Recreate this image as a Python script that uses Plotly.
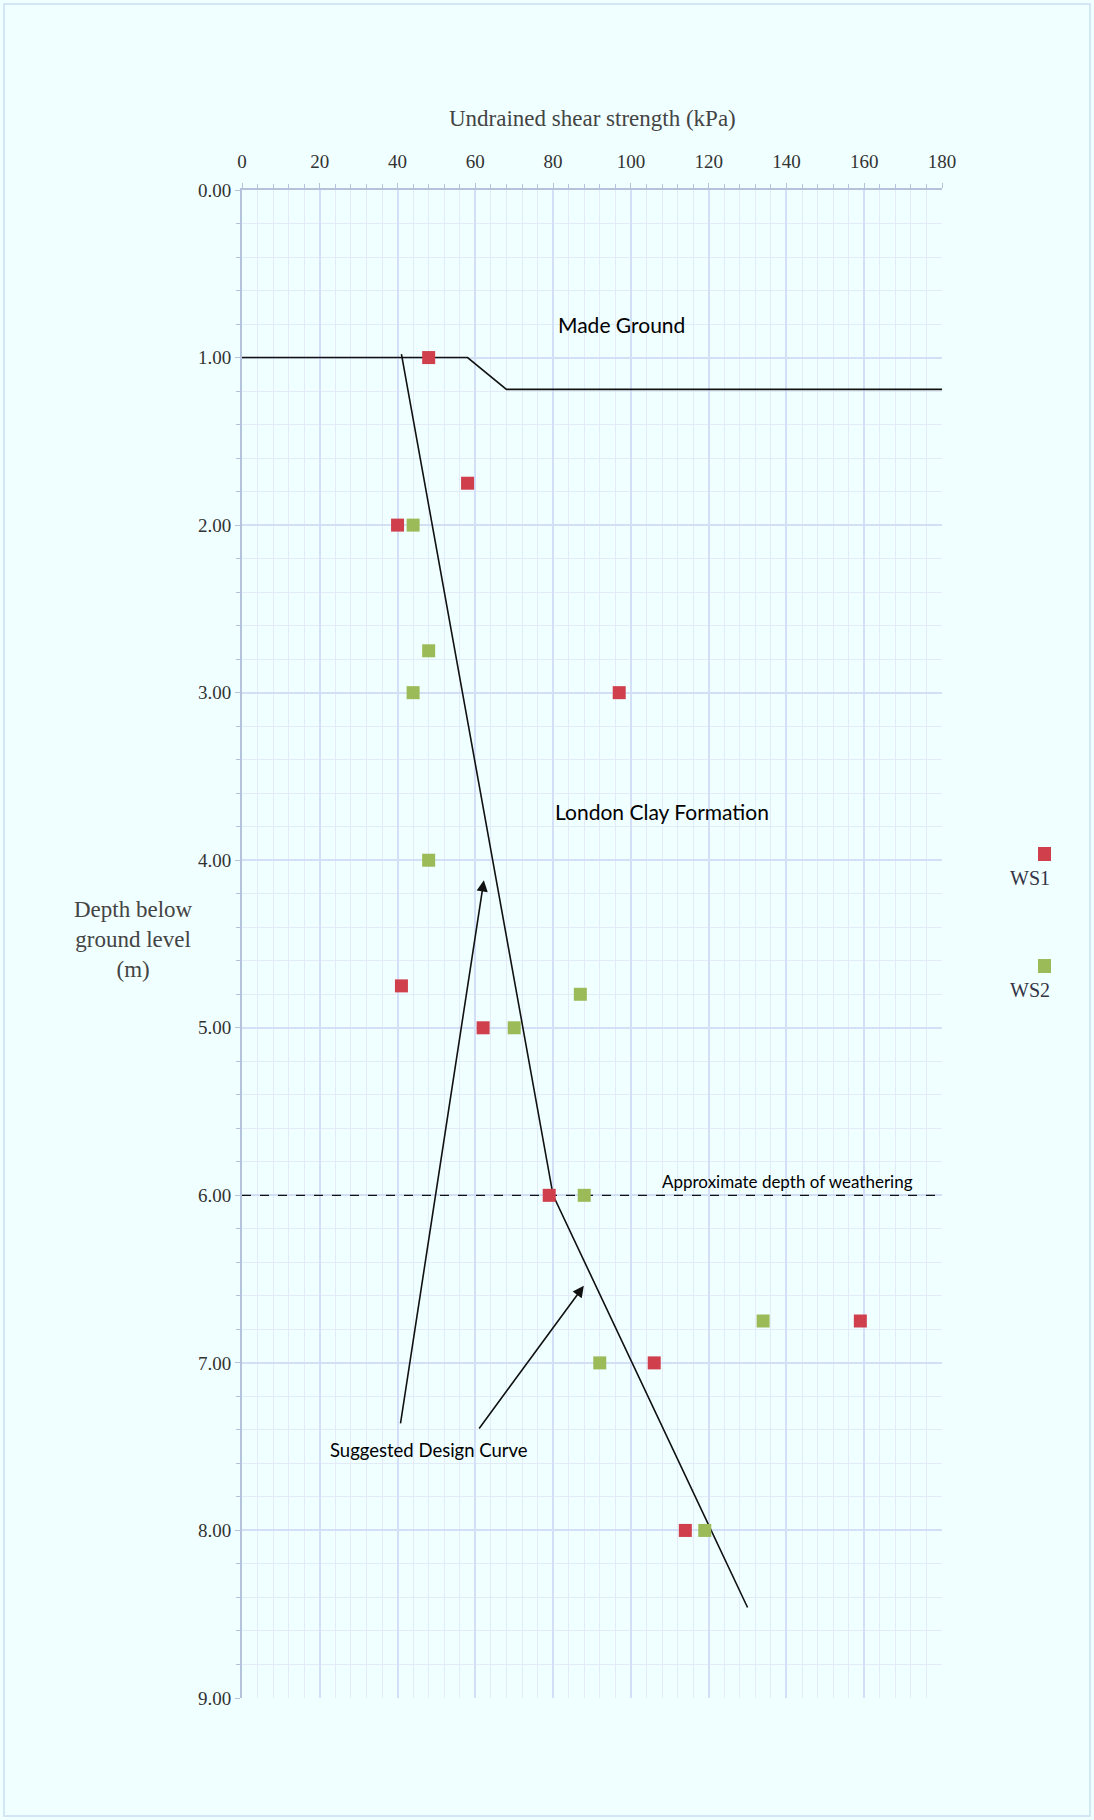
import plotly.graph_objects as go

# ---- data ----
ws1_su = [48, 58, 40, 97, 41, 62, 79, 106, 159, 114]
ws1_depth = [1.00, 1.75, 2.00, 3.00, 4.75, 5.00, 6.00, 7.00, 6.75, 8.00]
ws2_su = [44, 48, 44, 48, 87, 70, 88, 92, 134, 119]
ws2_depth = [2.00, 2.75, 3.00, 4.00, 4.80, 5.00, 6.00, 7.00, 6.75, 8.00]

made_ground_x = [0, 58, 68, 180]
made_ground_y = [1.00, 1.00, 1.19, 1.19]
design_x = [41, 80, 130]
design_y = [0.98, 6.00, 8.46]
weather_x = [0, 180]
weather_y = [6.00, 6.00]

x_ticks = [0, 20, 40, 60, 80, 100, 120, 140, 160, 180]
y_ticks = [0, 1, 2, 3, 4, 5, 6, 7, 8, 9]

# ---- layout constants ----
W, H = 1094, 1820
ML, MR, MT, MB = 242, 152, 190, 122
PW, PH = W - ML - MR, H - MT - MB
BG = "#F0FFFF"
RED = "#CF3F4C"
GREEN = "#9BBB59"
SERIF = "Liberation Serif, Times New Roman, serif"
SANS = "Lato, Carlito, Calibri, sans-serif"

def px2paper_x(px):
    return (px - ML) / PW

def px2paper_y(py):
    return (H - MB - py) / PH

fig = go.Figure()

fig.add_trace(go.Scatter(x=made_ground_x, y=made_ground_y, mode="lines",
                         line=dict(color="#111111", width=1.6), showlegend=False, hoverinfo="skip"))
fig.add_trace(go.Scatter(x=design_x, y=design_y, mode="lines",
                         line=dict(color="#111111", width=1.6), showlegend=False, hoverinfo="skip"))
fig.add_trace(go.Scatter(x=weather_x, y=weather_y, mode="lines",
                         line=dict(color="#111111", width=1.4, dash="dash"), showlegend=False, hoverinfo="skip"))
fig.add_trace(go.Scatter(x=ws1_su, y=ws1_depth, mode="markers", name="WS1",
                         marker=dict(symbol="square", size=13, color=RED), showlegend=False))
fig.add_trace(go.Scatter(x=ws2_su, y=ws2_depth, mode="markers", name="WS2",
                         marker=dict(symbol="square", size=13, color=GREEN), showlegend=False))

fig.update_xaxes(
    side="top", range=[0, 180], tickvals=x_ticks, ticktext=[str(v) for v in x_ticks],
    showline=True, linecolor="#B4C2DC", linewidth=2, mirror=False,
    ticks="outside", ticklen=5, tickcolor="#B4C2DC", ticklabelstandoff=7,
    showgrid=True, gridcolor="#D3DEF7", gridwidth=1.5,
    minor=dict(dtick=4, showgrid=True, gridcolor="#E3EBF8", gridwidth=1,
               ticks="outside", ticklen=4, tickcolor="#B4C2DC"),
    tickfont=dict(family=SERIF, size=19, color="#333333"),
    zeroline=False, fixedrange=True,
)
fig.update_yaxes(
    range=[9, 0], tickvals=y_ticks, ticktext=[f"{v:.2f}" for v in y_ticks],
    showline=True, linecolor="#B4C2DC", linewidth=2,
    ticks="outside", ticklen=5, tickcolor="#B4C2DC", ticklabelstandoff=0,
    showgrid=True, gridcolor="#D3DEF7", gridwidth=1.5,
    minor=dict(dtick=0.2, showgrid=True, gridcolor="#E3EBF8", gridwidth=1,
               ticks="outside", ticklen=4, tickcolor="#B4C2DC"),
    tickfont=dict(family=SERIF, size=19, color="#333333"),
    zeroline=False, fixedrange=True,
)

def paper_text(text, px, py, size, family=SERIF, color="#444444"):
    return dict(text=text, xref="paper", yref="paper", x=px2paper_x(px), y=px2paper_y(py),
                xanchor="center", yanchor="middle", showarrow=False,
                font=dict(family=family, size=size, color=color))

def data_text(text, x, y, size):
    return dict(text=text, x=x, y=y, xref="x", yref="y", xanchor="center", yanchor="middle",
                showarrow=False, font=dict(family=SANS, size=size, color="#000000"))

annotations = [
    paper_text("Undrained shear strength (kPa)", (ML + W - MR) / 2, 118, 23),
    paper_text("Depth below<br>ground level<br>(m)", 133, 940, 23),
    data_text("Made Ground", 97.5, 0.80, 21),
    data_text("London Clay Formation", 108, 3.71, 21),
    data_text("Approximate depth of weathering", 140.2, 5.92, 17),
    data_text("Suggested Design Curve", 48.1, 7.52, 18.5),
    dict(text="", x=62.2, y=4.12, ax=40.7, ay=7.37, xref="x", yref="y", axref="x", ayref="y",
         showarrow=True, arrowhead=2, arrowsize=1.4, arrowwidth=1.6, arrowcolor="#111111"),
    dict(text="", x=87.9, y=6.54, ax=60.7, ay=7.40, xref="x", yref="y", axref="x", ayref="y",
         showarrow=True, arrowhead=2, arrowsize=1.4, arrowwidth=1.6, arrowcolor="#111111"),
    paper_text("WS1", 1030, 878, 20, color="#333344"),
    paper_text("WS2", 1030, 990, 20, color="#333344"),
]

shapes = [
    dict(type="rect", xref="paper", yref="paper",
         x0=px2paper_x(4), x1=px2paper_x(W - 4), y0=px2paper_y(H - 4), y1=px2paper_y(4),
         line=dict(color="#D2E6F5", width=2), fillcolor="rgba(0,0,0,0)", layer="below"),
    dict(type="rect", xref="paper", yref="paper",
         x0=px2paper_x(1038), x1=px2paper_x(1051), y0=px2paper_y(861), y1=px2paper_y(847),
         line=dict(width=0), fillcolor=RED),
    dict(type="rect", xref="paper", yref="paper",
         x0=px2paper_x(1038), x1=px2paper_x(1051), y0=px2paper_y(973), y1=px2paper_y(959),
         line=dict(width=0), fillcolor=GREEN),
]

fig.update_layout(
    width=W, height=H,
    margin=dict(l=ML, r=MR, t=MT, b=MB, autoexpand=False),
    paper_bgcolor=BG, plot_bgcolor=BG,
    showlegend=False,
    annotations=annotations, shapes=shapes,
)

fig.write_html(
    "out.html",
    config={"displayModeBar": False},
    post_script="document.body.style.margin='0';document.body.style.background='#F0FFFF';",
)
